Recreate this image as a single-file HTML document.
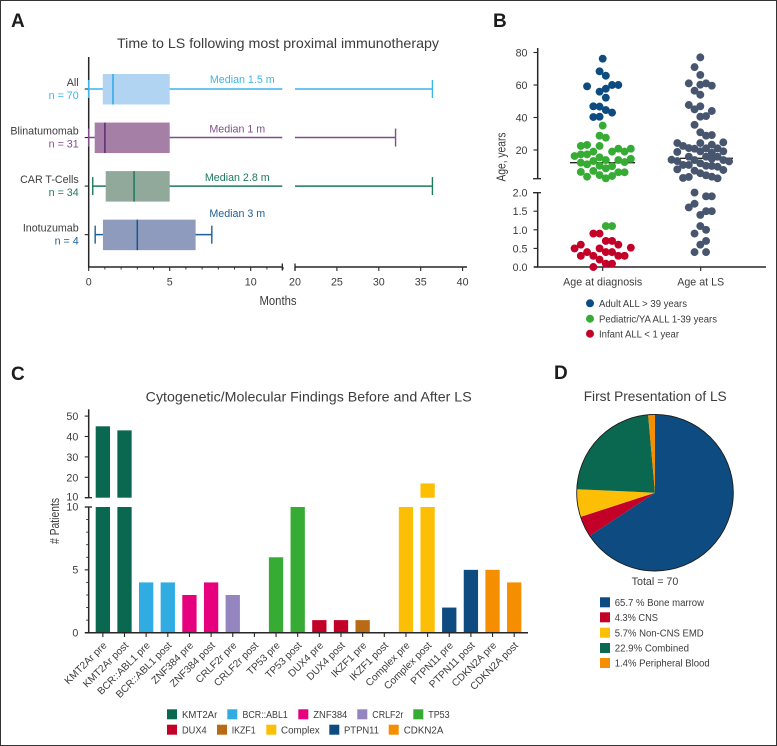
<!DOCTYPE html>
<html lang="en">
<head>
<meta charset="utf-8">
<title>Leukemic switch figure</title>
<style>
html,body{margin:0;padding:0;background:#fff;}
svg{display:block;filter:blur(.35px);font-family:"Liberation Sans",sans-serif;fill:#3c3c3c;}
text{font-size:10.7px;}
.ttl{font-size:14px;}
.let{font-size:19px;font-weight:bold;fill:#1c1c1c;}
.lg{font-size:10px;}
</style>
</head>
<body>
<svg id="fig" xmlns="http://www.w3.org/2000/svg" width="777" height="746" viewBox="0 0 777 746">
<rect x="0.5" y="0.5" width="776" height="745" fill="#fff" stroke="#333" stroke-width="1"/>

<g id="panelA">
<text class="let" x="11" y="27">A</text>
<text class="ttl" x="117" y="48" textLength="322" lengthAdjust="spacingAndGlyphs">Time to LS following most proximal immunotherapy</text>
<text x="278" y="305" text-anchor="middle" style="font-size:13px" textLength="37" lengthAdjust="spacingAndGlyphs">Months</text>
</g>

<g id="panelB">
<text class="let" x="493" y="27">B</text>
<text transform="translate(505.5 157) rotate(-90)" text-anchor="middle" style="font-size:13px" textLength="49" lengthAdjust="spacingAndGlyphs">Age, years</text>
<circle cx="590" cy="303.3" r="4" fill="#0d4b80"/>
<text class="lg" x="599" y="307" textLength="88" lengthAdjust="spacingAndGlyphs">Adult ALL &gt; 39 years</text>
<circle cx="590" cy="318.7" r="4" fill="#37ac35"/>
<text class="lg" x="599" y="322.4" textLength="118" lengthAdjust="spacingAndGlyphs">Pediatric/YA ALL 1-39 years</text>
<circle cx="590" cy="333.7" r="4" fill="#c20028"/>
<text class="lg" x="599" y="337.4" textLength="80" lengthAdjust="spacingAndGlyphs">Infant ALL &lt; 1 year</text>
</g>

<g id="panelC">
<text class="let" x="11" y="380">C</text>
<text class="ttl" x="145.7" y="401.7" textLength="326" lengthAdjust="spacingAndGlyphs">Cytogenetic/Molecular Findings Before and After LS</text>
<text transform="translate(59 521) rotate(-90)" text-anchor="middle" style="font-size:13px" textLength="46" lengthAdjust="spacingAndGlyphs"># Patients</text>
<rect x="167" y="709.3" width="10" height="10" fill="#0b6850"/>
<text class="lg" x="182" y="718" textLength="35.3" lengthAdjust="spacingAndGlyphs">KMT2Ar</text>
<rect x="227.3" y="709.3" width="10" height="10" fill="#30ace3"/>
<text class="lg" x="242.5" y="718" textLength="45.3" lengthAdjust="spacingAndGlyphs">BCR::ABL1</text>
<rect x="298.3" y="709.3" width="10" height="10" fill="#e6007e"/>
<text class="lg" x="313.3" y="718" textLength="34" lengthAdjust="spacingAndGlyphs">ZNF384</text>
<rect x="357.3" y="709.3" width="10" height="10" fill="#9484bf"/>
<text class="lg" x="372.3" y="718" textLength="31" lengthAdjust="spacingAndGlyphs">CRLF2r</text>
<rect x="413.3" y="709.3" width="10" height="10" fill="#37ac35"/>
<text class="lg" x="428.3" y="718" textLength="21.3" lengthAdjust="spacingAndGlyphs">TP53</text>
<rect x="167" y="724.7" width="10" height="10" fill="#c20028"/>
<text class="lg" x="182" y="733.4" textLength="24.7" lengthAdjust="spacingAndGlyphs">DUX4</text>
<rect x="217" y="724.7" width="10" height="10" fill="#b96a15"/>
<text class="lg" x="231.7" y="733.4" textLength="24" lengthAdjust="spacingAndGlyphs">IKZF1</text>
<rect x="266.3" y="724.7" width="10" height="10" fill="#fcbf06"/>
<text class="lg" x="281" y="733.4" textLength="38.7" lengthAdjust="spacingAndGlyphs">Complex</text>
<rect x="329.3" y="724.7" width="10" height="10" fill="#0d4b80"/>
<text class="lg" x="344" y="733.4" textLength="35" lengthAdjust="spacingAndGlyphs">PTPN11</text>
<rect x="388.7" y="724.7" width="10" height="10" fill="#f58e00"/>
<text class="lg" x="403.7" y="733.4" textLength="39.7" lengthAdjust="spacingAndGlyphs">CDKN2A</text>
</g>

<g id="panelD">
<text class="let" x="554" y="379">D</text>
<text class="ttl" x="583.7" y="401" textLength="143" lengthAdjust="spacingAndGlyphs">First Presentation of LS</text>
<text x="655" y="585" text-anchor="middle">Total = 70</text>
<rect x="600" y="597.3" width="10" height="10" fill="#0d4b80"/>
<text class="lg" x="614.7" y="606" textLength="89.3" lengthAdjust="spacingAndGlyphs">65.7 % Bone marrow</text>
<rect x="600" y="612.3" width="10" height="10" fill="#c20028"/>
<text class="lg" x="614.7" y="621" textLength="43.3" lengthAdjust="spacingAndGlyphs">4.3% CNS</text>
<rect x="600" y="627.7" width="10" height="10" fill="#fcbf06"/>
<text class="lg" x="614.7" y="636.4" textLength="89" lengthAdjust="spacingAndGlyphs">5.7% Non-CNS EMD</text>
<rect x="600" y="643" width="10" height="10" fill="#0b6850"/>
<text class="lg" x="614.7" y="651.7" textLength="74.3" lengthAdjust="spacingAndGlyphs">22.9% Combined</text>
<rect x="600" y="658" width="10" height="10" fill="#f58e00"/>
<text class="lg" x="614.7" y="666.7" textLength="95" lengthAdjust="spacingAndGlyphs">1.4% Peripheral Blood</text>
</g>
</svg>

<script>
// ---------- Panel A data (months) ----------
const therapyNames = ['All', 'Blinatumomab', 'CAR T-Cells', 'Inotuzumab'];
const therapyCounts = [70, 31, 34, 4];
const therapyMin = [0, 0, 0.25, 0.4];
const therapyQ1 = [0.87, 0.37, 1.05, 0.88];
const therapyMedian = [1.5, 1, 2.8, 3];
const therapyQ3 = [5, 5, 5, 6.6];
const therapyMax = [36.4, 32, 36.4, 7.6];
const monthTicksLow = [0, 5, 10];
const monthTicksHigh = [20, 25, 30, 35, 40];

// ---------- Panel B data (age in years; slots are swarm columns) ----------
const adultAges = [76.2, 68.4, 65.7, 59.2, 55.9, 57.7, 60, 60, 52.2, 46.9, 46.7, 44.6, 43, 40.3, 40.5];
const adultSlots = [0, -0.5, 0.5, -2.5, -0.5, 0.5, 1.5, 2.5, 0.5, -1.5, -0.5, 0.5, 1.5, -1.5, -0.5];
const pediatricAges = [35, 28.8, 27.6, 22.5, 23.1, 22.5, 20.8, 20.8, 19, 19, 16.3, 17.3, 17.3, 19, 15.5, 13.8, 13.8, 14.6, 12.6, 12.2, 11.2, 13.2, 10.3, 8.7, 10, 6.5, 3.6, 7.1, 4.6, 2.6, 4, 6.3, 6.3, 1.1, 1.1];
const pediatricSlots = [0, -0.5, 0.5, -3.5, -2.5, -0.5, 4.5, 2.5, 1.5, 3.5, -4.5, -3.5, -2.5, -1.5, -0.5, 0.5, 2.5, 4.5, 3.5, -3.5, -2.5, -1.5, -0.5, 0.5, 1.5, -3.5, -2.5, -1.5, -0.5, 0.5, 1.5, 2.5, 3.5, 0.5, 1.5];
const infantAges = [0.9, 0.9, 0.7, 0.7, 0.6, 0.6, 0.5, 0.5, 0.52, 0.4, 0.4, 0.4, 0.3, 0.3, 0.3, 0.3, 0.2, 0.09, 0.09, 0];
const infantSlots = [-1.5, -0.5, 0.5, 1.5, -3.5, 2.5, -4.5, -0.5, 4.5, -2.5, 0.5, 1.5, -3.5, -1.5, 2.5, 3.5, -0.5, 0.5, 1.5, -1.5];
const lsAges = [77, 71, 66.2, 61, 60.2, 61, 59.6, 56.5, 54, 47.7, 46.9, 45, 44, 40.5, 40.9, 35.5, 30.9, 28.8, 29.2, 24.3, 22.5, 21.2, 20.8, 24.3, 21, 23.3, 21, 24.7, 18.8, 19.2, 19.2, 18.3, 15.9, 14, 13.2, 13.8, 15.9, 14.6, 15.9, 13.8, 13, 10.8, 10.8, 11.8, 10.3, 10.2, 9.7, 8.1, 7.3, 5.7, 4.4, 3.6, 2.6, 7.7, 2.8, 3.4, 2, 1.9, 1.9, 1.7, 1.6, 1.4, 1.5, 1.5, 1.1, 1, 0.9, 0.7, 0.6, 0.4, 0.4];
const lsSlots = [0, -1, 0, -2, 0, 1, 2, -1, 0, -2, 0, -1, 2, 0, 1, -1, 0, 1, 2, -4, -3, -2, -1, 0, 1, 2, 3, 4, -4, 4, 0, 2, -2, -5, -4, -1, 1, 2, 3, 4, 5, -3, -2, 0, 1, 2, 3, -4, -1, 0, 1, 2, 3, 4, -3, -2, -1, 1, 2, -1, -2, 0, 1, 2, 0, 1, -1, 1, 0, -1, 1];
const diagnosisMedianAge = 12.2;
const lsMedianAge = 14.9;
const ageColumns = ['Age at diagnosis', 'Age at LS'];
const ageTicksHigh = [20, 40, 60, 80];
const ageTicksLow = [0, 0.5, 1, 1.5, 2];

// ---------- Panel C data (patients) ----------
const findingNames = ['KMT2Ar pre', 'KMT2Ar post', 'BCR::ABL1 pre', 'BCR::ABL1 post', 'ZNF384 pre', 'ZNF384 post', 'CRLF2r pre', 'CRLF2r post', 'TP53 pre', 'TP53 post', 'DUX4 pre', 'DUX4 post', 'IKZF1 pre', 'IKZF1 post', 'Complex pre', 'Complex post', 'PTPN11 pre', 'PTPN11 post', 'CDKN2A pre', 'CDKN2A post'];
const findingCounts = [45, 43, 4, 4, 3, 4, 3, 0, 6, 10, 1, 1, 1, 0, 10, 17, 2, 5, 5, 4];
const patientTicksHigh = [10, 20, 30, 40, 50];
const patientTicksLow = [0, 5, 10];

// ---------- Panel D data (percent) ----------
const presentationNames = ['Bone marrow', 'CNS', 'Non-CNS EMD', 'Combined', 'Peripheral Blood'];
const presentationShares = [65.7, 4.3, 5.7, 22.9, 1.4];

// ---------- Palettes ----------
const therapyLine = ['#3fb4e8', '#7f4f8a', '#1b7a5d', '#1f5f99'];
const therapyBox = ['#b0d4f1', '#a67fa6', '#90a99b', '#8f9bbd'];
const therapyMid = ['#2aa9e2', '#5c2a6b', '#1b7a5d', '#1a5590'];
const findingColors = ['#0b6850', '#0b6850', '#30ace3', '#30ace3', '#e6007e', '#e6007e', '#9484bf', '#9484bf', '#37ac35', '#37ac35', '#c20028', '#c20028', '#b96a15', '#b96a15', '#fcbf06', '#fcbf06', '#0d4b80', '#0d4b80', '#f58e00', '#f58e00'];
const sliceColors = ['#0d4b80', '#c20028', '#fcbf06', '#0b6850', '#f58e00'];

const NS = 'http://www.w3.org/2000/svg';
const AXIS = '#262626';
function add(parent, tag, attrs, text) {
  const n = document.createElementNS(NS, tag);
  for (const k in attrs) n.setAttribute(k, attrs[k]);
  if (text !== undefined) n.textContent = text;
  parent.appendChild(n);
  return n;
}
function seg(parent, x1, y1, x2, y2, stroke, w) {
  return add(parent, 'line', { x1, y1, x2, y2, stroke, 'stroke-width': w });
}

// ---------- Panel A ----------
const gA = document.getElementById('panelA');
const BREAK_END = 282.3, BREAK_RESUME = 295;
function xA(m) { return m <= 20 && m < 13 ? 88.7 + m * 16.2 : 295 + (m - 20) * 8.38; }
function yA(i) { return 89 + i * 48.55; }

const yAxisA = seg(gA, 88.7, 57, 88.7, 267.5, AXIS, 1.5);


const xAxisA1 = seg(gA, 88, 267, BREAK_END, 267, AXIS, 1.5);


const xAxisA2 = seg(gA, BREAK_RESUME, 267, 467, 267, AXIS, 1.5);



therapyNames.forEach(function (name, i) {
  const y = yA(i), c = therapyLine[i];
  const rowTick = seg(gA, 84.7, y, 88.7, y, AXIS, 1.1);
  
  
  if (therapyMax[i] > 13) {
    const w1 = seg(gA, xA(therapyMin[i]), y, BREAK_END, y, c, 1.5);
    
    
    const w2 = seg(gA, BREAK_RESUME, y, xA(therapyMax[i]), y, c, 1.5);
    
    
  } else {
    const w3 = seg(gA, xA(therapyMin[i]), y, xA(therapyMax[i]), y, c, 1.5);
    
    
  }
  const capLo = seg(gA, xA(therapyMin[i]), y - 9, xA(therapyMin[i]), y + 9, c, 1.4);
  
  
  const capHi = seg(gA, xA(therapyMax[i]), y - 9, xA(therapyMax[i]), y + 9, c, 1.4);
  
  
  const box = add(gA, 'rect', { x: xA(therapyQ1[i]), y: y - 15, width: xA(therapyQ3[i]) - xA(therapyQ1[i]), height: 30.5, fill: therapyBox[i] });
  
  
  const mid = seg(gA, xA(therapyMedian[i]), y - 15, xA(therapyMedian[i]), y + 15.5, therapyMid[i], 1.5);
  
  
  const rowName = add(gA, 'text', { x: 78.7, y: y - 3, 'text-anchor': 'end' }, name);
  
  
  const rowN = add(gA, 'text', { x: 78.7, y: y + 10, 'text-anchor': 'end', style: 'fill:' + c }, 'n = ' + therapyCounts[i]);
  
  
  const medLift = i === 3 ? 17.7 : (i === 0 ? 6 : 5);
  const medX = i === 0 ? 242.3 : 237.3;
  const medText = add(gA, 'text', { x: medX, y: y - medLift, 'text-anchor': 'middle', style: 'fill:' + c }, 'Median ' + therapyMedian[i] + ' m');
  
  
});

const capA1 = seg(gA, BREAK_END, 263.5, BREAK_END, 270.5, AXIS, 1.3);


const capA2 = seg(gA, BREAK_RESUME, 263.5, BREAK_RESUME, 270.5, AXIS, 1.3);


for (let m = 1; m <= 12; m++) {
  if (m % 5 === 0) continue;
  const minor = seg(gA, xA(m), 267, xA(m), 269.5, AXIS, 0.9);
  
  
}
monthTicksLow.concat(monthTicksHigh).forEach(function (m) {
  const t = seg(gA, xA(m), 267, xA(m), 271, AXIS, 1.1);
  
  
  const l = add(gA, 'text', { x: xA(m), y: 285.7, 'text-anchor': 'middle' }, m);
  
  
});

// ---------- Panel B ----------
const gB = document.getElementById('panelB');
function yB(v) { return v > 2 ? 150 + (20 - v) * 1.625 : 267 - v * 37.2; }
function xB(col, slot) { return col === 0 ? 602.7 + slot * 6.25 : 700.3 + slot * 5.75; }

const midDx = seg(gB, 570, yB(diagnosisMedianAge), 635, yB(diagnosisMedianAge), AXIS, 1.4);


const midLs = seg(gB, 680, yB(lsMedianAge), 733, yB(lsMedianAge), AXIS, 1.4);



const yAxisB1 = seg(gB, 537.7, 48, 537.7, 178.7, AXIS, 1.5);


const yAxisB2 = seg(gB, 537.7, 192.7, 537.7, 267, AXIS, 1.5);


const capB1 = seg(gB, 533, 178.7, 541, 178.7, AXIS, 1.3);


const capB2 = seg(gB, 533, 192.7, 541, 192.7, AXIS, 1.3);


const xAxisB = seg(gB, 534, 267, 766, 267, AXIS, 1.5);



ageTicksHigh.forEach(function (v) {
  const t = seg(gB, 533.5, yB(v), 537.7, yB(v), AXIS, 1.1);
  
  
  const l = add(gB, 'text', { x: 527.5, y: yB(v) + 4, 'text-anchor': 'end' }, v);
  
  
});
ageTicksLow.forEach(function (v) {
  const t = seg(gB, 533.5, yB(v), 537.7, yB(v), AXIS, 1.1);
  
  
  const l = add(gB, 'text', { x: 527.5, y: yB(v) + 4, 'text-anchor': 'end' }, v.toFixed(1));
  
  
});
ageColumns.forEach(function (name, col) {
  const cx = col === 0 ? 602.7 : 700.7;
  const t = seg(gB, cx, 267, cx, 271, AXIS, 1.1);
  
  
  const l = add(gB, 'text', { x: cx, y: 285.3, 'text-anchor': 'middle' }, name);
  
  
});

function drawSwarm(ages, slots, col, color, label) {
  ages.forEach(function (age, i) {
    const dot = add(gB, 'circle', { cx: xB(col, slots[i]), cy: yB(age), r: 3.95, fill: color });
    
    
  });
}
drawSwarm(adultAges, adultSlots, 0, '#0d4b80', 'adult-point');
drawSwarm(pediatricAges, pediatricSlots, 0, '#37ac35', 'pediatric-point');
drawSwarm(infantAges, infantSlots, 0, '#c20028', 'infant-point');
drawSwarm(lsAges, lsSlots, 1, '#47566e', 'ls-age-point');

// ---------- Panel C ----------
const gC = document.getElementById('panelC');
function yLow(v) { return 632.7 - v * 12.57; }
function yHigh(v) { return 497.7 - (v - 10) * 2.04; }
function xC(i) { return 102.85 + i * 21.65; }
const BAR_W = 14.3;

findingNames.forEach(function (name, i) {
  const v = findingCounts[i], x = xC(i) - BAR_W / 2;
  if (v > 0) {
    const low = Math.min(v, 10);
    const bar = add(gC, 'rect', { x, y: yLow(low), width: BAR_W, height: yLow(0) - yLow(low), fill: findingColors[i] });
    
    
  }
  if (v > 10) {
    const top = add(gC, 'rect', { x, y: yHigh(v), width: BAR_W, height: yHigh(10) - yHigh(v), fill: findingColors[i] });
    
    
  }
  const t = seg(gC, xC(i), 632.7, xC(i), 637, AXIS, 1.1);
  
  
  const lx = xC(i) + 4.5, ly = 646;
  const l = add(gC, 'text', { x: lx, y: ly, 'text-anchor': 'end', style: 'font-size:10.2px', transform: 'rotate(-45 ' + lx + ' ' + ly + ')' }, name);
  
  
});

const yAxisC1 = seg(gC, 88.7, 409.3, 88.7, yHigh(10), AXIS, 1.5);


const yAxisC2 = seg(gC, 88.7, yLow(10), 88.7, 632.7, AXIS, 1.5);


const xAxisC = seg(gC, 85, 632.7, 528, 632.7, AXIS, 1.5);


const capC1 = seg(gC, 85, yHigh(10), 92, yHigh(10), AXIS, 1.3);


const capC2 = seg(gC, 85, yLow(10), 92, yLow(10), AXIS, 1.3);


for (let v = 1; v < 10; v++) {
  if (v === 5) continue;
  const minor = seg(gC, 86.2, yLow(v), 88.7, yLow(v), AXIS, 0.9);
  
  
}
patientTicksHigh.forEach(function (v) {
  const up = v === 10 ? 3 : 4;
  const t = seg(gC, 84.7, yHigh(v), 88.7, yHigh(v), AXIS, 1.1);
  
  
  const l = add(gC, 'text', { x: 78.3, y: yHigh(v) + up, 'text-anchor': 'end' }, v);
  
  
});
patientTicksLow.forEach(function (v) {
  const t = seg(gC, 84.7, yLow(v), 88.7, yLow(v), AXIS, 1.1);
  
  
  const l = add(gC, 'text', { x: 78.3, y: yLow(v) + 3.7, 'text-anchor': 'end' }, v);
  
  
});

// ---------- Panel D ----------
const gD = document.getElementById('panelD');
const PIE_X = 655, PIE_Y = 492.7, PIE_R = 78.3;
const shareTotal = presentationShares.reduce(function (a, b) { return a + b; }, 0);
function pieXY(turn) {
  const a = turn * 2 * Math.PI - Math.PI / 2;
  return [PIE_X + PIE_R * Math.cos(a), PIE_Y + PIE_R * Math.sin(a)];
}
let cumulative = 0;
presentationShares.forEach(function (share, i) {
  const from = cumulative / shareTotal;
  cumulative += share;
  const to = cumulative / shareTotal;
  const p0 = pieXY(from), p1 = pieXY(to);
  const large = to - from > 0.5 ? 1 : 0;
  const slice = add(gD, 'path', {
    d: 'M' + PIE_X + ' ' + PIE_Y + 'L' + p0[0] + ' ' + p0[1] + 'A' + PIE_R + ' ' + PIE_R + ' 0 ' + large + ' 1 ' + p1[0] + ' ' + p1[1] + 'Z',
    fill: sliceColors[i]
  });
  
  
});
const pieRim = add(gD, 'circle', { cx: PIE_X, cy: PIE_Y, r: PIE_R, fill: 'none', stroke: '#1c1c1c', 'stroke-width': 0.9 });


</script>
</body>
</html>
